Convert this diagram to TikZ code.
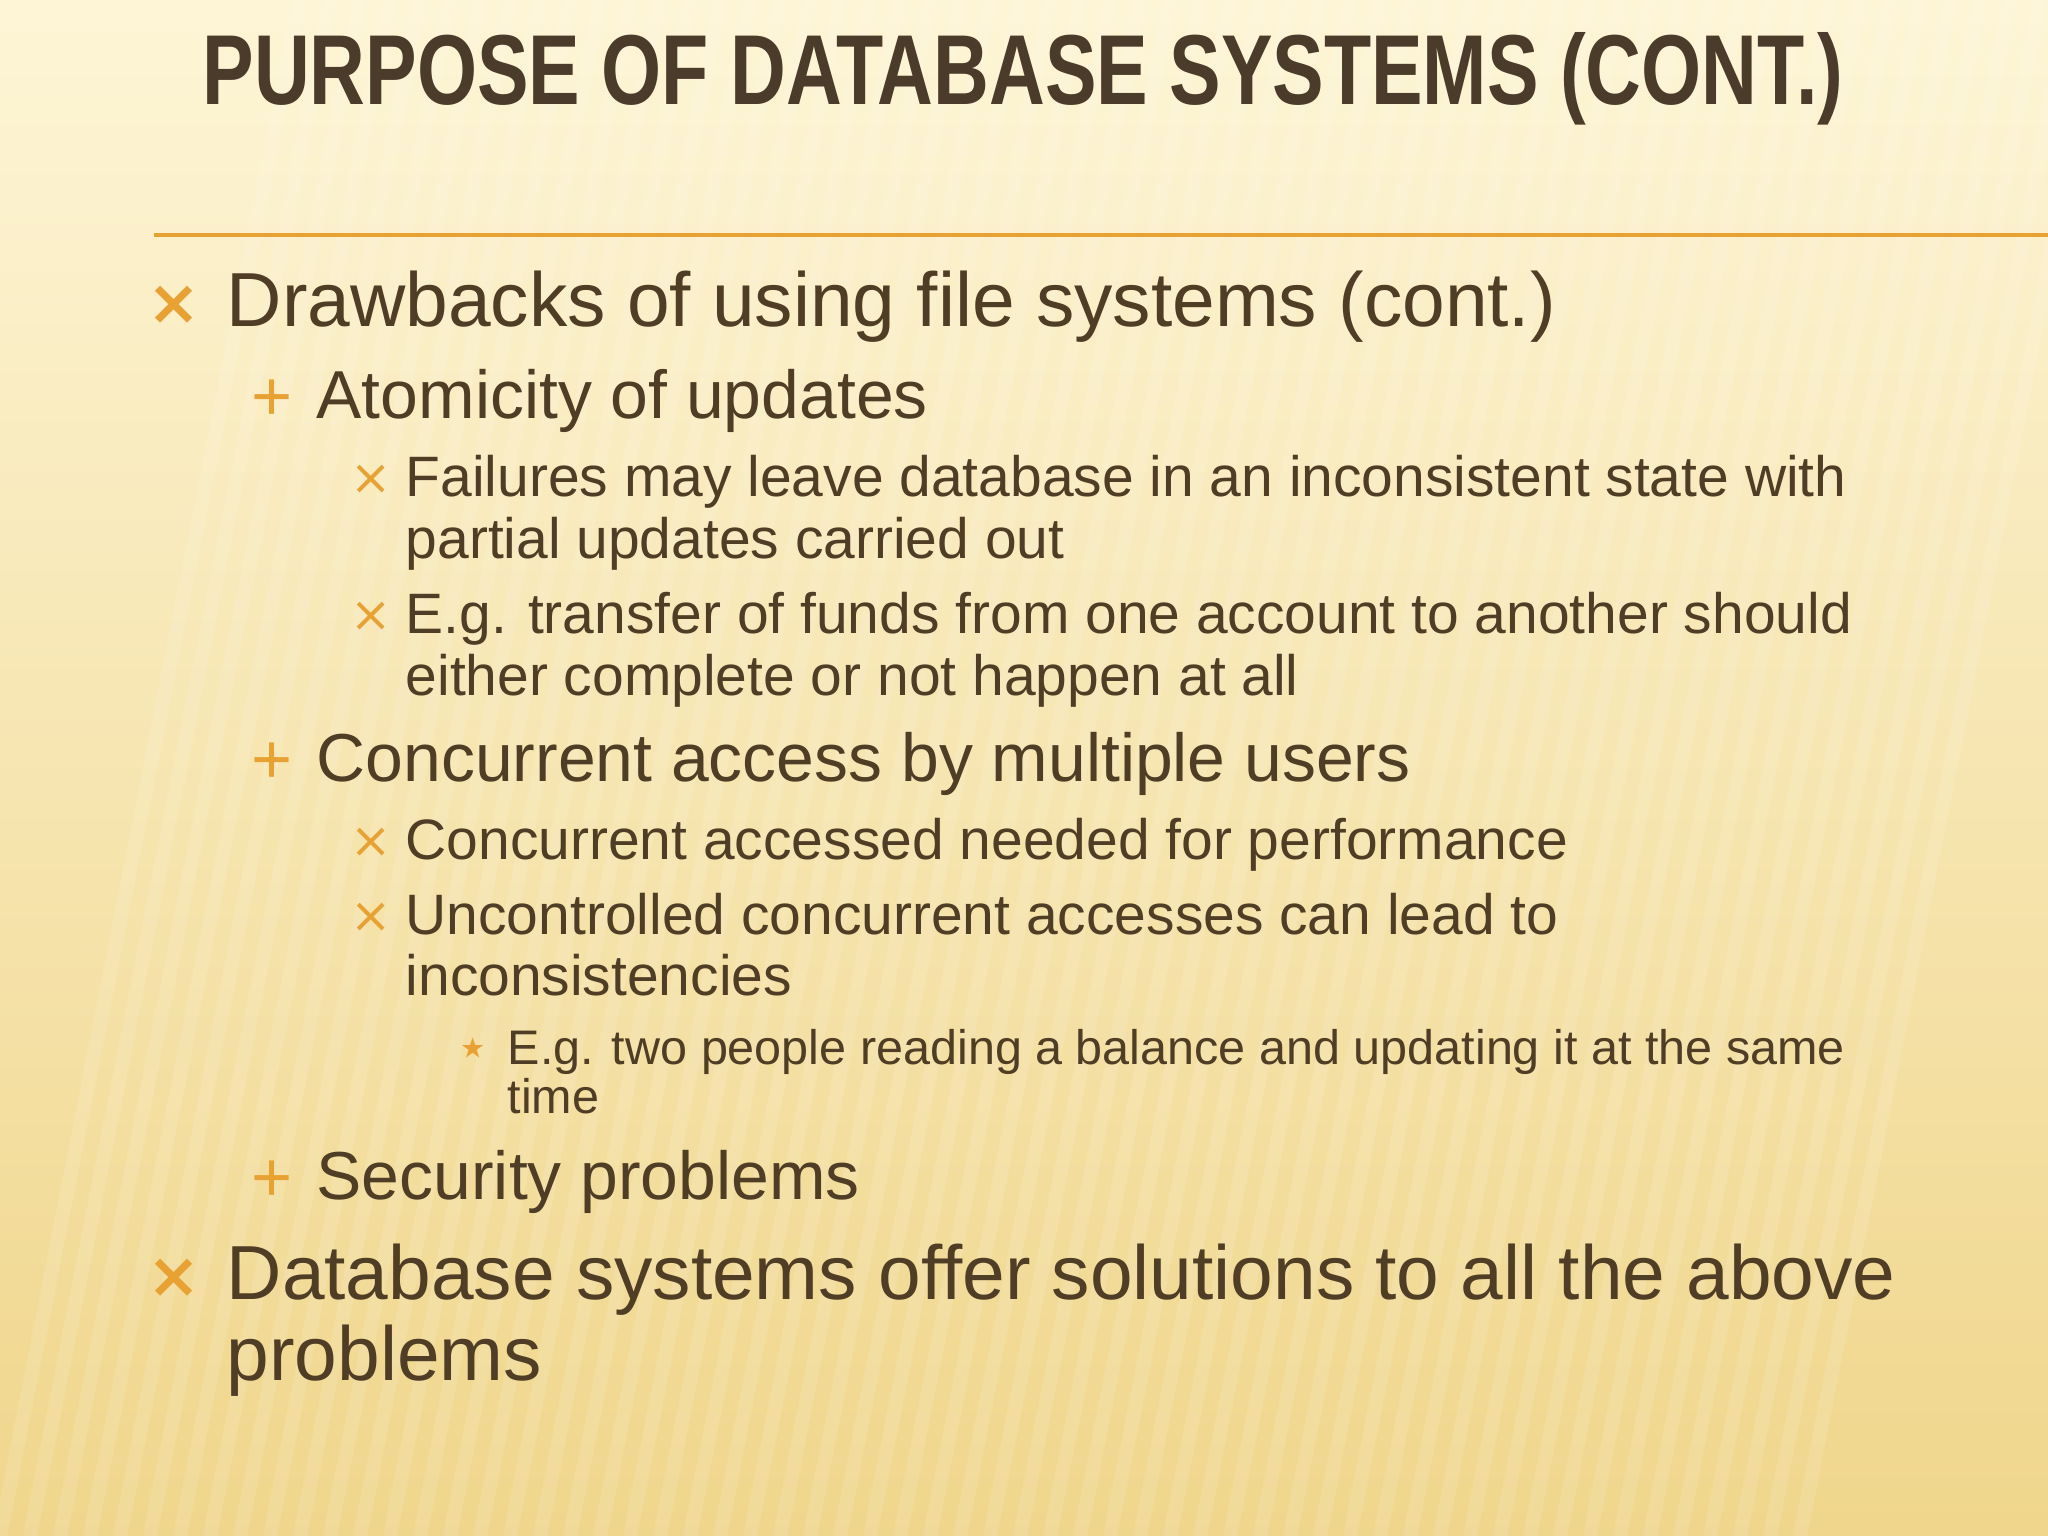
\documentclass[tikz,border=0pt]{standalone}
\usepackage{fontspec}
\setmainfont{Liberation Sans}
\newfontfamily\symf{DejaVu Sans}
\begin{document}
\begin{tikzpicture}[x=0.01cm,y=-0.01cm,
  txt/.style={anchor=base west,inner sep=0,text=tcol},
  bul/.style={anchor=base,inner sep=0,text=bcol}]
\definecolor{tcol}{HTML}{4F3D26}
\definecolor{bcol}{HTML}{E8A233}
\definecolor{ttl}{HTML}{4A3B2B}
\useasboundingbox (0,0) rectangle (2048,1536);
\shade[top color={rgb,255:red,253;green,245;blue,214},bottom color={rgb,255:red,240;green,214;blue,140}] (0,0) rectangle (2048,1536);
\foreach \i in {0,...,60}{\draw[white,opacity=0.12,line width=4pt] (300+\i*30,0) -- (\i*30,1536);}
\node[anchor=base,inner sep=0,text=ttl] (title) at (1023,104) {\resizebox{16.4cm}{0.72cm}{\fontsize{30}{30}\selectfont\bfseries PURPOSE OF DATABASE SYSTEMS (CONT.)}};
\draw[bcol,line width=1.2pt] (154,235) coordinate (l1) -- (2048,235) coordinate (l2);
\node[bul,font=\symf\bfseries\fontsize{18}{18}\selectfont] (b1) at (174,324) {×};
\node[txt,font=\fontsize{21.8}{20}\selectfont] (t1) at (226,326) {Drawbacks of using file systems (cont.)};
\node[bul,font=\fontsize{20}{20}\selectfont] (b2) at (272,420) {+};
\node[txt,font=\fontsize{19.3}{20}\selectfont] (t2) at (316,418) {Atomicity of updates};
\node[bul,font=\symf\fontsize{14}{14}\selectfont] (b3) at (371,494) {×};
\node[txt,font=\fontsize{16.2}{20}\selectfont] (t3) at (405,496) {Failures may leave database in an inconsistent state with};
\node[txt,font=\fontsize{16.2}{20}\selectfont] (t3b) at (405,558) {partial updates carried out};
\node[bul,font=\symf\fontsize{14}{14}\selectfont] (b4) at (371,631) {×};
\node[txt,font=\fontsize{16.2}{20}\selectfont] (t4) at (405,633) {E.g. transfer of funds from one account to another should};
\node[txt,font=\fontsize{16.2}{20}\selectfont] (t4b) at (405,695) {either complete or not happen at all};
\node[bul,font=\fontsize{20}{20}\selectfont] (b5) at (272,783) {+};
\node[txt,font=\fontsize{19.3}{20}\selectfont] (t5) at (316,781) {Concurrent access by multiple users};
\node[bul,font=\symf\fontsize{14}{14}\selectfont] (b6) at (371,857) {×};
\node[txt,font=\fontsize{16.2}{20}\selectfont] (t6) at (405,859) {Concurrent accessed needed for performance};
\node[bul,font=\symf\fontsize{14}{14}\selectfont] (b7) at (371,932) {×};
\node[txt,font=\fontsize{16.2}{20}\selectfont] (t7) at (405,934) {Uncontrolled concurrent accesses can lead to};
\node[txt,font=\fontsize{16.2}{20}\selectfont] (t7b) at (405,995) {inconsistencies};
\node[bul,font=\symf\fontsize{16}{16}\selectfont] (b8) at (473,1066) {⋆};
\node[txt,font=\fontsize{13.8}{20}\selectfont] (t8) at (507,1064) {E.g. two people reading a balance and updating it at the same};
\node[txt,font=\fontsize{13.8}{20}\selectfont] (t8b) at (507,1113) {time};
\node[bul,font=\fontsize{20}{20}\selectfont] (b9) at (272,1201) {+};
\node[txt,font=\fontsize{19.3}{20}\selectfont] (t9) at (316,1199) {Security problems};
\node[bul,font=\symf\bfseries\fontsize{18}{18}\selectfont] (b10) at (174,1297) {×};
\node[txt,font=\fontsize{21.8}{20}\selectfont] (t10) at (226,1299) {Database systems offer solutions to all the above};
\node[txt,font=\fontsize{21.8}{20}\selectfont] (t10b) at (226,1380) {problems};
\end{tikzpicture}
\end{document}
